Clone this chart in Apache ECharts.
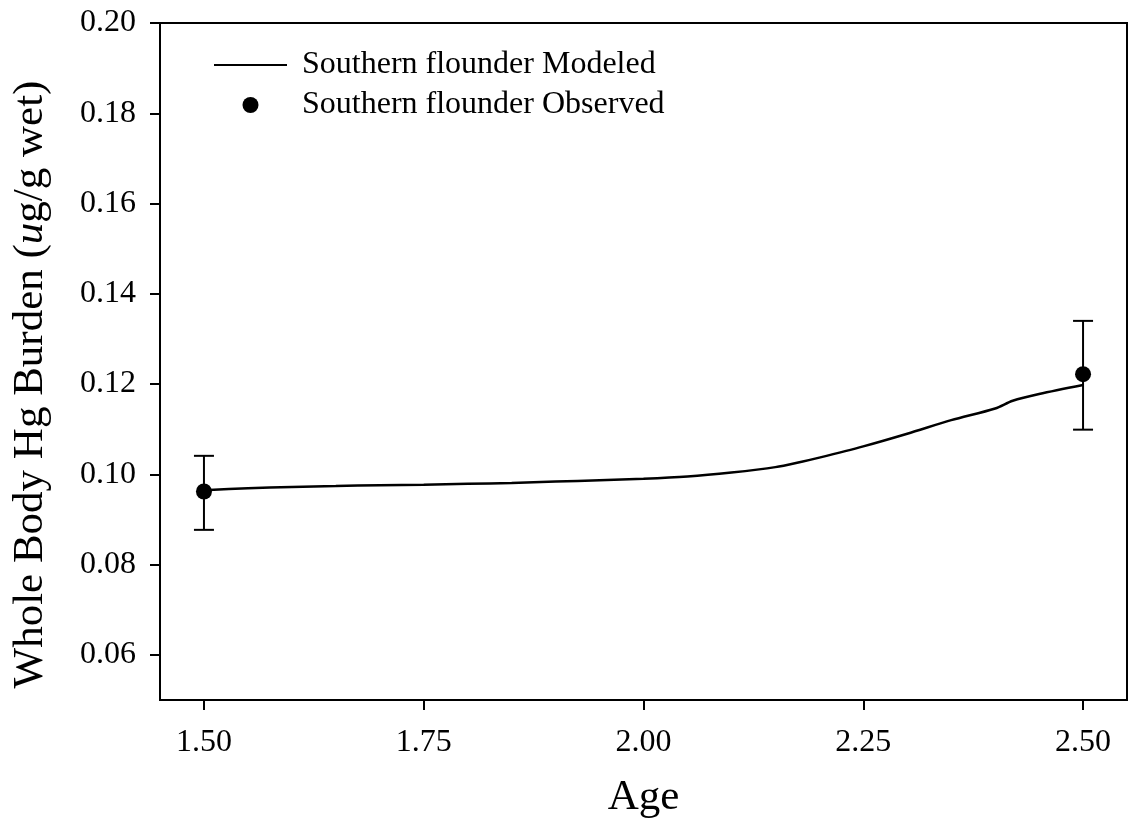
<!DOCTYPE html>
<html>
<head>
<meta charset="utf-8">
<script src="https://cdn.jsdelivr.net/npm/echarts@6/dist/echarts.min.js"></script>
<style>
  html, body { margin: 0; padding: 0; background: #fff; }
  #chart { width: 1129px; height: 840px; }
</style>
</head>
<body>
<div id="chart"></div>
<script>
// Modeled whole-body Hg burden by age
const modeledAge = [1.50, 1.55, 1.60, 1.65, 1.70, 1.75, 1.80, 1.85, 1.90, 1.95, 2.00, 2.05, 2.10, 2.15, 2.18, 2.20, 2.25, 2.30, 2.35, 2.40, 2.42, 2.45, 2.50];
const modeledHg = [0.0965, 0.0969, 0.0972, 0.0974, 0.0976, 0.0977, 0.0979, 0.0981, 0.0984, 0.0987, 0.0990, 0.0995, 0.1004, 0.1016, 0.1028, 0.1037, 0.1062, 0.1090, 0.1120, 0.1146, 0.1163, 0.1178, 0.1198];

// Observed means with error bar limits
const observedAge = [1.50, 2.50];
const observedHg = [0.0962, 0.1222];
const observedLow = [0.0877, 0.1099];
const observedHigh = [0.1041, 0.1340];

// Tick labels
const xTicks = [1.50, 1.75, 2.00, 2.25, 2.50];
const yTicks = [0.06, 0.08, 0.10, 0.12, 0.14, 0.16, 0.18, 0.20];

const FONT = '"Liberation Serif", "DejaVu Serif", serif';

const chart = echarts.init(document.getElementById('chart'));

const option = {
  backgroundColor: '#ffffff',
  animation: false,
  textStyle: { fontFamily: FONT, color: '#000' },
  grid: {
    left: 160, right: 2, top: 23, bottom: 140,
    show: true, borderColor: '#000', borderWidth: 2, backgroundColor: 'transparent'
  },
  legend: {
    orient: 'vertical',
    left: 209, top: 44,
    itemWidth: 73, itemHeight: 16, itemGap: 8,
    textStyle: { fontFamily: FONT, fontSize: 32, color: '#000', padding: [0, 0, 0, 10] },
    data: [
      { name: 'Southern flounder Modeled', icon: 'path://M0,0 L73,0 L73,2 L0,2 Z' },
      { name: 'Southern flounder Observed', icon: 'circle' }
    ]
  },
  xAxis: {
    type: 'value',
    min: 1.45, max: 2.55,
    name: 'Age',
    nameLocation: 'middle',
    nameGap: 76,
    nameTextStyle: { fontFamily: FONT, fontSize: 43, color: '#000' },
    axisLine: { show: true, onZero: false, lineStyle: { color: '#000', width: 2 } },
    axisTick: { show: true, inside: false, length: 10, customValues: xTicks, lineStyle: { color: '#000', width: 2 } },
    axisLabel: {
      customValues: xTicks, margin: 27,
      fontFamily: FONT, fontSize: 32, color: '#000',
      formatter: v => v.toFixed(2)
    },
    splitLine: { show: false }
  },
  yAxis: {
    type: 'value',
    min: 0.05, max: 0.20,
    name: '{n|Whole Body Hg Burden (}{i|u}{n|g/g wet)}',
    nameLocation: 'middle',
    nameRotate: 90,
    nameGap: 108,
    nameTextStyle: {
      fontFamily: FONT, fontSize: 43, color: '#000',
      padding: [0, 46, 0, 0],
      rich: {
        n: { fontFamily: FONT, fontSize: 43, color: '#000' },
        i: { fontFamily: FONT, fontSize: 43, color: '#000', fontStyle: 'italic' }
      }
    },
    axisLine: { show: true, onZero: false, lineStyle: { color: '#000', width: 2 } },
    axisTick: { show: true, inside: false, length: 10, customValues: yTicks, lineStyle: { color: '#000', width: 2 } },
    axisLabel: {
      customValues: yTicks, margin: 24,
      fontFamily: FONT, fontSize: 32, color: '#000',
      formatter: v => v.toFixed(2)
    },
    splitLine: { show: false }
  },
  series: [
    {
      name: 'Southern flounder Modeled',
      type: 'line',
      symbol: 'none',
      smooth: 0.3,
      data: modeledAge.map((a, i) => [a, modeledHg[i]]),
      lineStyle: { color: '#000', width: 2.5 },
      itemStyle: { color: '#000' },
      z: 3
    },
    {
      name: 'Observed error',
      type: 'custom',
      data: observedAge.map((a, i) => [a, observedLow[i], observedHigh[i]]),
      renderItem: function (params, api) {
        const x = api.value(0);
        const lo = api.coord([x, api.value(1)]);
        const hi = api.coord([x, api.value(2)]);
        const hw = 10;
        const style = { stroke: '#000', lineWidth: 2 };
        return {
          type: 'group',
          children: [
            { type: 'line', shape: { x1: lo[0], y1: lo[1], x2: hi[0], y2: hi[1] }, style },
            { type: 'line', shape: { x1: hi[0] - hw, y1: hi[1], x2: hi[0] + hw, y2: hi[1] }, style },
            { type: 'line', shape: { x1: lo[0] - hw, y1: lo[1], x2: lo[0] + hw, y2: lo[1] }, style }
          ]
        };
      },
      z: 4
    },
    {
      name: 'Southern flounder Observed',
      type: 'scatter',
      symbol: 'circle',
      symbolSize: 16,
      data: observedAge.map((a, i) => [a, observedHg[i]]),
      itemStyle: { color: '#000', opacity: 1 },
      z: 5
    }
  ]
};

chart.setOption(option);
</script>
</body>
</html>
